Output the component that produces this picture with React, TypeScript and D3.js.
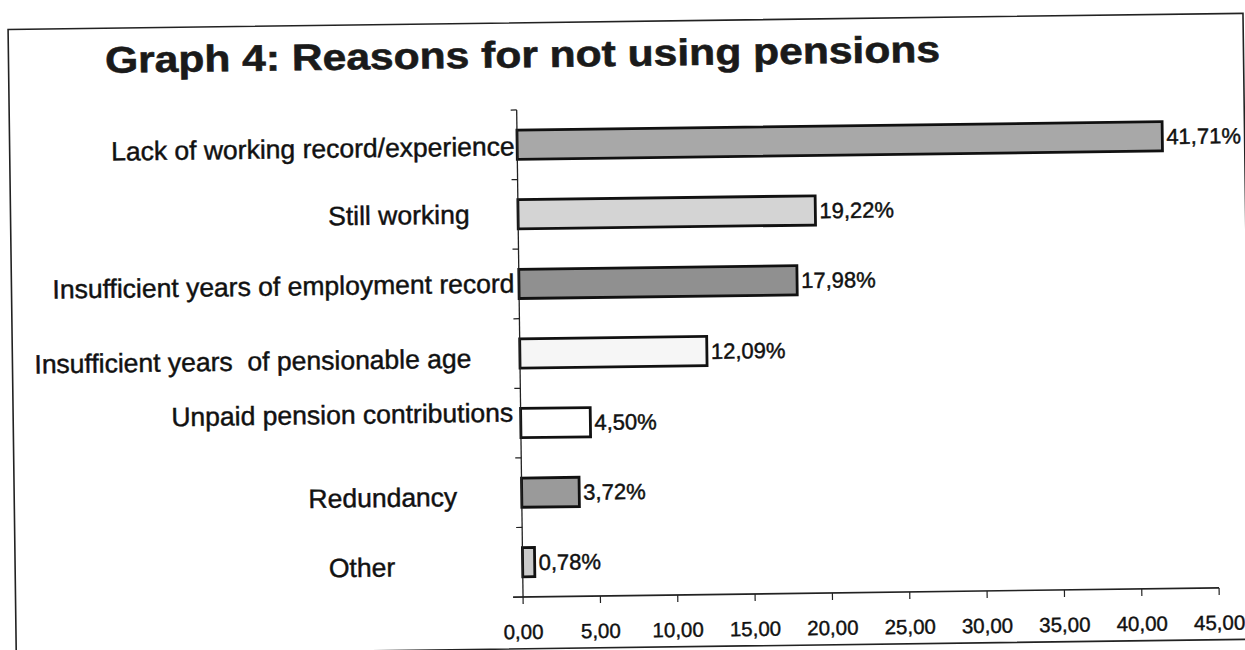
import React from "react";
import * as d3 from "d3";

const categories = [
  "Lack of working record/experience",
  "Still working",
  "Insufficient years of employment record",
  "Insufficient years  of pensionable age",
  "Unpaid pension contributions",
  "Redundancy",
  "Other",
];
const values = [41.71, 19.22, 17.98, 12.09, 4.5, 3.72, 0.78];
const xTicks = [0, 5, 10, 15, 20, 25, 30, 35, 40, 45];
const title = "Graph 4: Reasons for not using pensions";

// styling / layout (not data)
const barFills = ["#a8a8a8", "#d4d4d4", "#909090", "#f6f6f6", "#ffffff", "#9a9a9a", "#cbcbcb"];
const labelRight = [517, 471, 515, 471, 512, 455, 392];
const labelDy = [1, -1, -1, 4, -11, 3, 3];

const W = 1245;
const H = 650;
const FONT = "'Liberation Sans', Arial, Helvetica, sans-serif";

const fmt = (v: number) => d3.format(".2f")(v).replace(".", ",");

export default function App() {
  const x = d3.scaleLinear().domain([0, 45]).range([519.5, 1215.6]);
  const y = d3
    .scaleBand<string>()
    .domain(categories)
    .range([108.6, 595.7])
    .paddingInner(0.58)
    .paddingOuter(0.29);
  const step = y.step();
  const axisY = 595.7;
  const boundaries = d3.range(categories.length + 1).map((i) => 108.6 + i * step);
  const ink = "#111";

  return (
    <svg
      width={W}
      height={H}
      style={{ position: "absolute", left: 0, top: 0, background: "#fff" }}
      fontFamily={FONT}
    >
      <rect x={0} y={0} width={W} height={H} fill="#fff" />
      <g transform="rotate(-0.75 622 325)">
        {/* frame */}
        <rect x={12} y={21.5} width={1235} height={626} fill="none" stroke="#222" strokeWidth={1.6} />

        {/* title */}
        <text
          x={526}
          y={66}
          textAnchor="middle"
          fontSize={37}
          fontWeight="bold"
          fill="#1a1a1a"
          stroke="#1a1a1a"
          strokeWidth={0.6}
          textLength={835}
          lengthAdjust="spacingAndGlyphs"
        >
          {title}
        </text>

        {/* bars */}
        {categories.map((c, i) => (
          <rect
            key={c}
            x={x(0)}
            y={y(c)}
            width={x(values[i]) - x(0)}
            height={y.bandwidth()}
            fill={barFills[i]}
            stroke={ink}
            strokeWidth={2.8}
          />
        ))}

        {/* value labels */}
        {categories.map((c, i) => (
          <text
            key={c + "v"}
            x={x(values[i]) + 4}
            y={(y(c) as number) + y.bandwidth() / 2}
            dy="0.36em"
            fontSize={22}
            fill={ink}
            stroke={ink}
            strokeWidth={0.45}
          >
            {fmt(values[i]) + "%"}
          </text>
        ))}

        {/* category labels */}
        {categories.map((c, i) => (
          <text
            key={c + "l"}
            x={labelRight[i]}
            y={(y(c) as number) + y.bandwidth() / 2 + labelDy[i]}
            dy="0.36em"
            textAnchor="end"
            fontSize={26.5}
            fill={ink}
            stroke={ink}
            strokeWidth={0.45}
            style={{ whiteSpace: "pre" }}
          >
            {c}
          </text>
        ))}

        {/* y axis */}
        <line x1={x(0)} x2={x(0)} y1={108.6} y2={axisY} stroke="#222" strokeWidth={1.3} />
        {boundaries.slice(0, -1).map((b, i) => (
          <line key={"yt" + i} x1={x(0) - 6} x2={x(0)} y1={b} y2={b} stroke="#222" strokeWidth={1.2} />
        ))}

        {/* x axis */}
        <line x1={x(0) - 10} x2={x(45)} y1={axisY} y2={axisY} stroke="#222" strokeWidth={1.6} />
        {xTicks.map((t) => (
          <line key={"xt" + t} x1={x(t)} x2={x(t)} y1={axisY} y2={axisY + 7} stroke="#222" strokeWidth={1.2} />
        ))}
        {xTicks.map((t) => (
          <text
            key={"xl" + t}
            x={x(t)}
            y={axisY + 42}
            textAnchor="middle"
            fontSize={20.5}
            fill={ink}
            stroke={ink}
            strokeWidth={0.4}
          >
            {fmt(t)}
          </text>
        ))}
      </g>
    </svg>
  );
}
